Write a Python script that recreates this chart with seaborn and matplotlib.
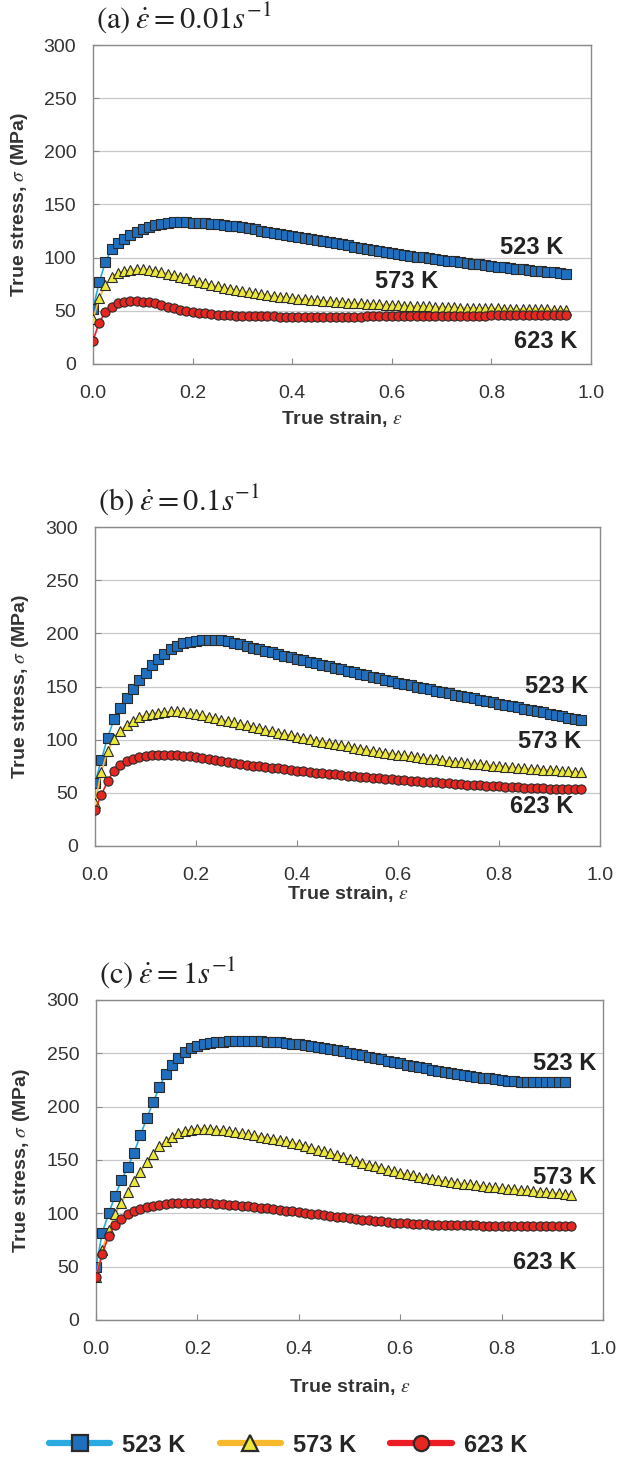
import matplotlib
matplotlib.use("Agg")
import matplotlib.pyplot as plt
from matplotlib.lines import Line2D
import seaborn as sns

sns.set_style("white")
plt.rcParams['font.family'] = ['Liberation Sans', 'DejaVu Sans']
plt.rcParams['mathtext.fontset'] = 'stix'

# ---------------- data ----------------
strain = [0, 0.0125, 0.025, 0.0375, 0.05, 0.0625, 0.075, 0.0875, 0.1, 0.1125,
          0.125, 0.1375, 0.15, 0.1625, 0.175, 0.1875, 0.2, 0.2125, 0.225, 0.2375,
          0.25, 0.2625, 0.275, 0.2875, 0.3, 0.3125, 0.325, 0.3375, 0.35, 0.3625,
          0.375, 0.3875, 0.4, 0.4125, 0.425, 0.4375, 0.45, 0.4625, 0.475, 0.4875,
          0.5, 0.5125, 0.525, 0.5375, 0.55, 0.5625, 0.575, 0.5875, 0.6, 0.6125,
          0.625, 0.6375, 0.65, 0.6625, 0.675, 0.6875, 0.7, 0.7125, 0.725, 0.7375,
          0.75, 0.7625, 0.775, 0.7875, 0.8, 0.8125, 0.825, 0.8375, 0.85, 0.8625,
          0.875, 0.8875, 0.9, 0.9125, 0.925, 0.9375, 0.95, 0.9625]

temps = ["523 K", "573 K", "623 K"]

# (a) strain rate 0.01 /s
a_523 = [52, 77, 96, 108, 114, 118, 121, 124.5, 127, 129,
         131, 132, 133, 133.5, 133.5, 133.5, 133, 133, 132.5, 132,
         131.5, 131, 130, 129.5, 128.5, 127.5, 126.5, 125.5, 124.5, 123.5,
         122.5, 121.5, 120.5, 119.5, 118.5, 117.5, 116.5, 115.5, 114.5, 113.5,
         112.5, 111.5, 110.5, 109.5, 108.5, 107.5, 106.5, 105.5, 104.5, 103.5,
         102.5, 101.7, 101, 100.2, 99.5, 98.7, 98, 97.2, 96.5, 95.8,
         95, 94.3, 93.6, 93, 92.3, 91.6, 91, 90.3, 89.7, 89.1,
         88.5, 87.9, 87.3, 86.7, 86.1, 85.6, 85]
a_573 = [42, 62, 74, 82, 85.5, 87.5, 88.5, 89, 89, 88.5,
         87.5, 86.5, 85, 83.5, 82, 80.5, 79, 77.5, 76, 74.5,
         73, 71.8, 70.6, 69.5, 68.5, 67.5, 66.5, 65.6, 64.8, 64,
         63.3, 62.6, 62, 61.4, 60.8, 60.3, 59.8, 59.3, 58.9, 58.5,
         58.1, 57.7, 57.3, 57, 56.7, 56.4, 56.1, 55.8, 55.5, 55.2,
         55, 54.7, 54.5, 54.3, 54.1, 53.9, 53.7, 53.5, 53.3, 53.1,
         53, 52.8, 52.6, 52.5, 52.3, 52.2, 52, 51.9, 51.8, 51.7,
         51.6, 51.5, 51.4, 51.3, 51.2, 51.1, 51]
a_623 = [22, 39, 49, 54, 57, 58.5, 59, 59, 58.5, 58,
         57, 55.5, 54, 52.5, 51, 50, 49, 48.2, 47.5, 47,
         46.5, 46.1, 45.8, 45.5, 45.3, 45.1, 45, 44.9, 44.8, 44.7,
         44.6, 44.6, 44.5, 44.5, 44.5, 44.5, 44.5, 44.5, 44.5, 44.5,
         44.5, 44.5, 44.6, 44.6, 44.7, 44.7, 44.8, 44.8, 44.9, 44.9,
         45, 45, 45.1, 45.1, 45.2, 45.2, 45.3, 45.3, 45.4, 45.4,
         45.5, 45.5, 45.6, 45.6, 45.7, 45.7, 45.8, 45.8, 45.9, 45.9,
         46, 46, 46.1, 46.1, 46.2, 46.2, 46.3]

# (b) strain rate 0.1 /s
b_523 = [59, 81, 102, 119, 130, 139, 148, 156, 163, 170,
         176, 181, 185, 188, 190.5, 192, 193, 193.5, 194, 194,
         193.5, 192.5, 191, 189.5, 188, 186.5, 185, 183.5, 182, 180.5,
         179, 177.5, 176, 174.6, 173.2, 171.8, 170.4, 169, 167.6, 166.2,
         164.8, 163.4, 162, 160.6, 159.2, 157.8, 156.4, 155, 153.7, 152.4,
         151.1, 149.8, 148.5, 147.2, 146, 144.8, 143.6, 142.4, 141.2, 140,
         138.8, 137.6, 136.4, 135.2, 134, 132.8, 131.6, 130.4, 129.2, 128,
         126.8, 125.6, 124.4, 123.2, 122, 120.8, 119.6, 118.4]
b_573 = [40, 70, 89, 101, 108, 114, 118, 121, 123, 124.5,
         125.5, 126, 126.5, 126.5, 126, 125, 124, 122.8, 121.5, 120.2,
         118.9, 117.6, 116.2, 114.8, 113.4, 112, 110.6, 109.3, 108, 106.7,
         105.4, 104.1, 102.8, 101.6, 100.4, 99.2, 98, 96.9, 95.8, 94.7,
         93.6, 92.6, 91.6, 90.6, 89.6, 88.7, 87.8, 86.9, 86, 85.2,
         84.4, 83.6, 82.8, 82.1, 81.4, 80.7, 80, 79.3, 78.7, 78.1,
         77.5, 76.9, 76.3, 75.7, 75.2, 74.7, 74.2, 73.7, 73.2, 72.7,
         72.3, 71.9, 71.5, 71.1, 70.7, 70.3, 70, 69.7]
b_623 = [34, 48, 61, 71, 76, 79.5, 82, 84, 85, 85.5,
         86, 86, 86, 85.5, 85, 84.2, 83.3, 82.4, 81.5, 80.6,
         79.7, 78.9, 78.1, 77.3, 76.5, 75.7, 75, 74.3, 73.6, 72.9,
         72.2, 71.5, 70.8, 70.2, 69.6, 69, 68.4, 67.8, 67.3, 66.8,
         66.3, 65.8, 65.3, 64.8, 64.3, 63.8, 63.3, 62.8, 62.3, 61.8,
         61.4, 61, 60.6, 60.2, 59.8, 59.4, 59, 58.6, 58.2, 57.8,
         57.4, 57, 56.7, 56.4, 56.1, 55.8, 55.5, 55.2, 54.9, 54.6,
         54.4, 54.2, 54, 53.8, 53.6, 53.4, 53.3, 53.2]

# (c) strain rate 1 /s
c_523 = [50, 82, 100, 116, 131, 143, 157, 173, 189, 204,
         218, 231, 239, 246, 251, 255, 257, 258.5, 259.5, 260.3,
         260.8, 261.2, 261.5, 261.6, 261.6, 261.5, 261.3, 261, 260.6, 260.2,
         259.6, 259, 258.3, 257.5, 256.7, 255.8, 254.9, 253.9, 252.9, 251.8,
         250.7, 249.5, 248.3, 247, 245.7, 244.4, 243.1, 241.8, 240.5, 239.3,
         238.1, 237, 235.9, 234.8, 233.8, 232.8, 231.8, 230.9, 230, 229.1,
         228.2, 227.3, 226.5, 225.7, 225, 224.3, 223.7, 223.3, 223, 222.8,
         222.7, 222.7, 222.8, 223.1, 223.5]
c_573 = [40, 66, 84, 99, 110, 120, 130, 139, 148, 156,
         163, 168, 172, 175, 177, 178.5, 179.5, 179.5, 179, 178.5,
         178, 177, 176, 175, 174, 173, 172, 171, 170, 169,
         167.5, 166.3, 165, 163.3, 161.6, 159.8, 158, 156.2, 154.4, 152.6,
         150.8, 149.1, 147.4, 145.7, 144.1, 142.5, 141, 139.5, 138, 136.7,
         135.5, 134.3, 133.2, 132.1, 131.1, 130.2, 129.4, 128.6, 127.8, 127.1,
         126.4, 125.7, 125, 124.4, 123.8, 123.2, 122.6, 122.1, 121.6, 121.1,
         120.4, 119.8, 119.3, 118.7, 118.1, 117.5]
c_623 = [40, 62, 79, 89, 95, 99, 102, 104, 105.5, 107,
         108, 109, 109.5, 110, 110, 110, 110, 109.8, 109.5, 109.1,
         108.7, 108.2, 107.7, 107.2, 106.6, 106, 105.4, 104.7, 104, 103.3,
         102.6, 101.9, 101.2, 100.5, 99.8, 99.1, 98.4, 97.7, 97, 96.3,
         95.6, 94.9, 94.2, 93.6, 93, 92.4, 91.9, 91.4, 91, 90.6,
         90.3, 90, 89.7, 89.5, 89.3, 89.1, 89, 88.9, 88.8, 88.7,
         88.6, 88.5, 88.5, 88.4, 88.4, 88.3, 88.3, 88.3, 88.2, 88.2,
         88.2, 88.2, 88.2, 88.2, 88.2, 88.2]

panel_titles = [r"(a)$\;\dot{\varepsilon} = 0.01s^{-1}$",
                r"(b)$\;\dot{\varepsilon} = 0.1s^{-1}$",
                r"(c)$\;\dot{\varepsilon} = 1s^{-1}$"]
x_ticks = [0.0, 0.2, 0.4, 0.6, 0.8, 1.0]
y_ticks = [0, 50, 100, 150, 200, 250, 300]

# ---------------- styles ----------------
line_colors = ["#29AAE1", "#F9B92C", "#EC1C24"]
face_colors = ["#1F6FBE", "#ECE83A", "#E62620"]
markers = ["s", "^", "o"]
msizes = [7.0, 7.8, 6.6]
edge = "#2a2a2a"

W, H = 618, 1461
fig = plt.figure(figsize=(W / 100, H / 100), dpi=100)

# axes boxes in pixels: left, right, top, bottom
boxes = [(93, 591, 45, 364), (95, 600, 527, 846), (96, 603, 1000, 1320)]
panel_data = [
    [(strain[:77], a_523), (strain[:77], a_573), (strain[:77], a_623)],
    [(strain[:78], b_523), (strain[:78], b_573), (strain[:78], b_623)],
    [(strain[:75], c_523), (strain[:76], c_573), (strain[:76], c_623)],
]
# label positions (data coords)
labels_pos = [
    [(0.88, 110), (0.63, 78), (0.91, 21)],
    [(0.915, 150), (0.90, 98), (0.885, 37)],
    [(0.925, 240), (0.925, 134), (0.885, 54)],
]
xlabel_y = [-0.141, -0.118, -0.178]

for p, (l, r, t, b) in enumerate(boxes):
    ax = fig.add_axes([l / W, 1 - b / H, (r - l) / W, (b - t) / H])
    for k in range(3):
        xs, ys = panel_data[p][k]
        sns.lineplot(x=xs, y=ys, ax=ax, color=line_colors[k], linewidth=1.2,
                     marker=markers[k], markersize=msizes[k],
                     markerfacecolor=face_colors[k], markeredgecolor=edge,
                     markeredgewidth=0.8, legend=False, zorder=3 + k)
    ax.set_xlim(0, 1)
    ax.set_ylim(0, 300)
    ax.set_xticks(x_ticks)
    ax.set_xticklabels([f"{v:.1f}" for v in x_ticks])
    ax.set_yticks(y_ticks)
    ax.set_yticklabels([str(v) for v in y_ticks])
    ax.yaxis.grid(True, color="#c9c9c9", linewidth=0.9)
    ax.xaxis.grid(False)
    ax.set_axisbelow(True)
    for s in ax.spines.values():
        s.set_color("#8a8a8a")
        s.set_linewidth(1.0)
    ax.tick_params(axis="both", direction="in", length=4, color="#8a8a8a",
                   labelsize=14, labelcolor="#333333")
    ax.tick_params(axis="x", pad=15)
    ax.tick_params(axis="y", pad=12)
    ax.tick_params(bottom=True, left=True)
    ax.set_ylabel(r"True stress, $\sigma$ (MPa)", fontsize=14, fontweight="bold",
                  color="#333333")
    ax.yaxis.set_label_coords(-0.127, 0.5)
    ax.set_xlabel(r"True strain, $\varepsilon$", fontsize=14, fontweight="bold",
                  color="#333333")
    ax.xaxis.set_label_coords(0.5, xlabel_y[p])
    for k in range(3):
        x, y = labels_pos[p][k]
        ax.text(x, y, temps[k], fontsize=17, fontweight="bold", color="#222222",
                ha="center", va="center", zorder=10)
    fig.text((l + 3) / W, 1 - (t - 27) / H, panel_titles[p], fontsize=22,
             family="STIXGeneral", ha="left", va="center", color="#222222")

handles = [Line2D([], [], color=line_colors[k], lw=4.5, marker=markers[k],
                  markersize=11 if k != 1 else 12, markerfacecolor=face_colors[k],
                  markeredgecolor=edge, markeredgewidth=1.6,
                  solid_capstyle="round")
           for k in range(3)]
fig.legend(handles, temps, loc="center", bbox_to_anchor=(0.466, 1 - 1445 / H),
           ncol=3, frameon=False, prop={"weight": "bold", "size": 17},
           handlelength=2.6, columnspacing=1.45, handletextpad=0.5)

fig.savefig("out.png", dpi=100)
